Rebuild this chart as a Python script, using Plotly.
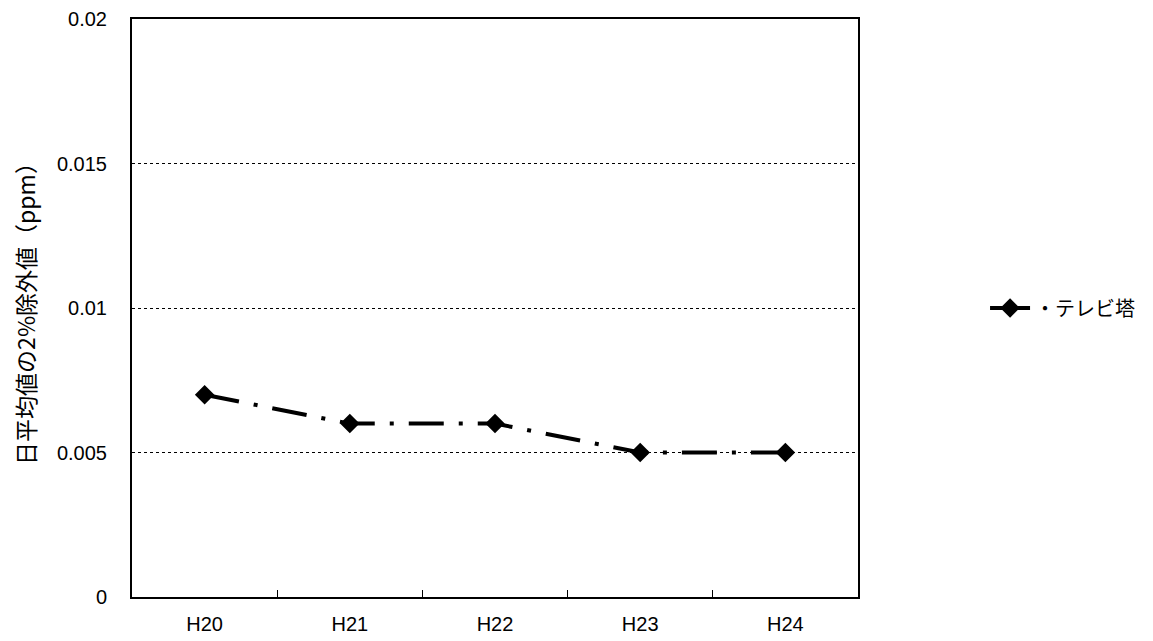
import plotly.graph_objects as go

years = ["H20", "H21", "H22", "H23", "H24"]
tv_tower = [0.007, 0.006, 0.006, 0.005, 0.005]
series_name = "・テレビ塔"

fig = go.Figure()
fig.add_trace(go.Scatter(
    x=years,
    y=tv_tower,
    mode="lines+markers",
    line=dict(color="black", width=4, dash="35px,15px,4px,15px"),
    marker=dict(symbol="diamond", size=15, color="black"),
    showlegend=False,
))
# legend entry drawn with a solid line like the original
fig.add_trace(go.Scatter(
    x=[None],
    y=[None],
    name=series_name,
    mode="lines+markers",
    line=dict(color="black", width=4),
    marker=dict(symbol="diamond", size=15, color="black"),
))

# page body has an 8px margin, so the margins below are shifted by that
fig.update_layout(
    width=1153,
    height=641,
    margin=dict(l=124, r=303, t=11, b=52),
    paper_bgcolor="white",
    plot_bgcolor="white",
    font=dict(family="Liberation Sans, Arial", size=20, color="black"),
    legend=dict(
        x=1.175, y=0.5, xanchor="left", yanchor="middle",
        font=dict(family="Noto Sans CJK JP", size=20),
        itemwidth=40,
    ),
    xaxis=dict(
        type="category",
        showline=True, linecolor="black", linewidth=2, mirror=True,
        ticks="inside", tickson="boundaries", ticklen=7, tickcolor="black",
        showgrid=False,
        ticklabelstandoff=8,
        range=[-0.5, 4.5],
        automargin=False,
    ),
    yaxis=dict(
        range=[0, 0.02],
        dtick=0.005,
        showline=True, linecolor="black", linewidth=2, mirror=True,
        ticks="",
        showgrid=True, gridcolor="black", gridwidth=1, griddash="dot",
        zeroline=False,
        ticklabelstandoff=19,
        automargin=False,
        title=dict(
            text="日平均値の2%除外値（ppm）",
            font=dict(family="Noto Sans CJK JP", size=23),
            standoff=18,
        ),
    ),
)

fig.write_html("out.html")
